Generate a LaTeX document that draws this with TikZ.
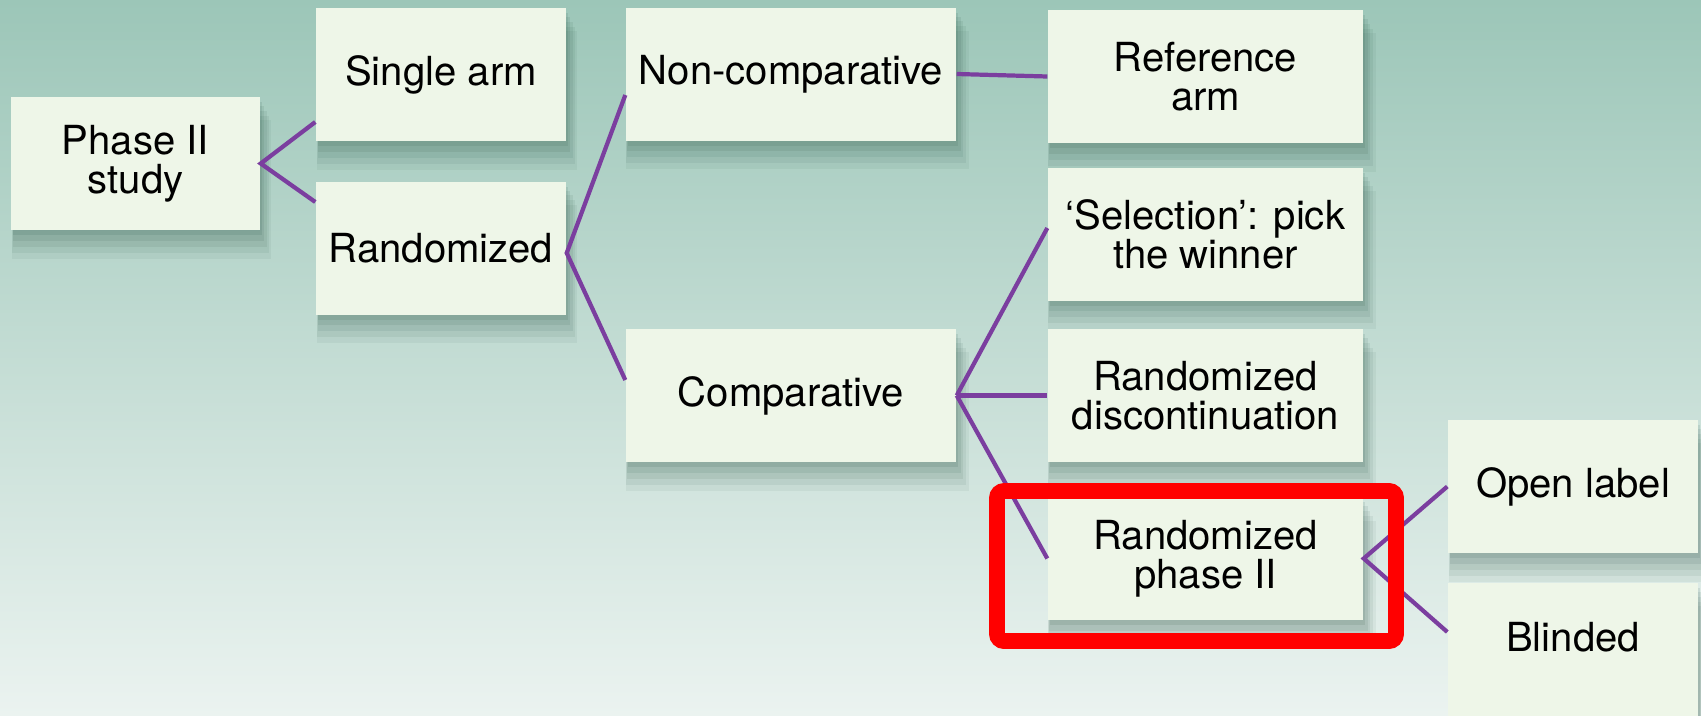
\documentclass[tikz,border=0pt]{standalone}
\usepackage{fontspec}
\setmainfont{TeX Gyre Heros}
\usetikzlibrary{shadows}
\definecolor{bgtop}{HTML}{9CC6B8}
\definecolor{bgmid}{HTML}{B4D6CA}
\definecolor{bgbot}{HTML}{EBF3F0}
\definecolor{boxfill}{HTML}{EEF6E8}
\definecolor{linkpurple}{HTML}{7B3E9F}
\definecolor{shadowgreen}{HTML}{1F4A3A}

\tikzset{
  softshadow/.style={
    general shadow={fill=shadowgreen,opacity=0.10,shadow xshift=0.02cm,shadow yshift=-0.05cm},
    general shadow={fill=shadowgreen,opacity=0.09,shadow xshift=0.03cm,shadow yshift=-0.10cm,shadow scale=1.01},
    general shadow={fill=shadowgreen,opacity=0.08,shadow xshift=0.04cm,shadow yshift=-0.15cm,shadow scale=1.02},
    general shadow={fill=shadowgreen,opacity=0.07,shadow xshift=0.05cm,shadow yshift=-0.20cm,shadow scale=1.03},
    general shadow={fill=shadowgreen,opacity=0.06,shadow xshift=0.06cm,shadow yshift=-0.25cm,shadow scale=1.04}
  }
}

\begin{document}
\begin{tikzpicture}[
    box/.style={fill=boxfill,minimum width=2.5cm,minimum height=1.33cm,inner sep=0pt,align=center,
      font=\fontsize{11.4}{11.1}\selectfont,softshadow},
    wide/.style={box,minimum width=3.3cm},
    leaf/.style={box,minimum width=3.15cm},
    link/.style={draw=linkpurple,line width=1.2pt},
    highlight/.style={draw=red,line width=4.5pt,rounded corners=2pt}
  ]

  \useasboundingbox (0,0) rectangle (17.01,7.15);
  \shade[top color=bgtop,middle color=bgmid,bottom color=bgbot] (0,0) rectangle (17.01,7.15);

  \node[box,minimum width=2.49cm] (phase) at (1.355,5.515) {Phase II\\study};
  \node[box] (single) at (4.41,6.405) {Single arm};
  \node[box] (rand) at (4.41,4.67) {Randomized};

  \node[wide] (noncomp) at (7.91,6.41) {Non-comparative};
  \node[wide] (comp) at (7.91,3.195) {Comparative};

  \node[leaf] (refarm) at (12.055,6.385) {Reference\\arm};
  \node[leaf] (select) at (12.055,4.81) {‘Selection’: pick\\the winner};
  \node[leaf] (discont) at (12.055,3.195) {Randomized\\discontinuation};
  \node[leaf,minimum height=1.23cm] (rphase) at (12.055,1.565) {Randomized\\phase II};

  \node[box] (open) at (15.73,2.285) {Open label};
  \node[box,text depth=7.4pt] (blind) at (15.73,0.655) {Blinded};

  % tree links
  \draw[link] ([yshift=-0.475cm]single.west) -- (phase.east) -- ([yshift=0.46cm]rand.west);
  \draw[link] ([yshift=-0.21cm]noncomp.west) -- ([yshift=-0.05cm]rand.east) -- ([yshift=0.155cm]comp.west);
  \draw[link] (noncomp.east) -- (refarm.west);
  \draw[link] (comp.east) -- ([yshift=0.06cm]select.west);
  \draw[link] (comp.east) -- (discont.west);
  \draw[link] (comp.east) -- (rphase.west);
  \draw[link] (open.west) -- (rphase.east) -- ([yshift=0.175cm]blind.west);

  \draw[highlight] (9.97,0.74) rectangle (13.96,2.24);

\end{tikzpicture}
\end{document}
